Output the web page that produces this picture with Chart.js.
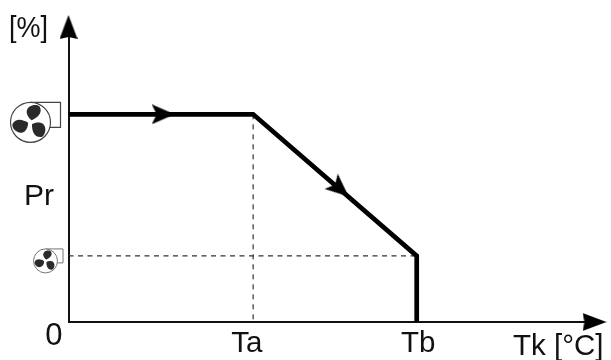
<!DOCTYPE html>
<html><head><meta charset="utf-8">
<style>html,body{margin:0;padding:0;background:#fff}#w{position:relative;width:611px;height:360px}canvas{display:block;filter:blur(0.4px)}</style>
<script src="https://cdn.jsdelivr.net/npm/chart.js@4"></script></head>
<body><div id="w"><canvas id="c" width="611" height="360"></canvas></div>
<script>
const xCategories = ['Ta', 'Tb'];
const xTickValues = [33.9, 66.5];
const yTickValues = [0];
const yTickLabels = ['0'];
const yHigh = 70.4;
const yLow = 22.4;
const curveX = [0, 35.1, 66.2, 66.2];
const curveY = [70.4, 70.4, 22.4, 0];
const guideAX = [35.1, 35.1];
const guideAY = [70.4, 0];
const guideBX = [0, 66.2];
const guideBY = [22.4, 22.4];
const arrowX = [18, 51.6];
const arrowY = [70.4, 45.1];
const arrowRot = [90, 131];
const axisEndX = [100];
const axisEndY = [100];

function pts(xs, ys){ return xs.map((x,i)=>({x, y: ys[i]})); }

function arrowCanvas(w, h, notch){
  const c = document.createElement('canvas');
  c.width = w; c.height = h;
  const g = c.getContext('2d');
  g.fillStyle = '#000';
  g.beginPath();
  g.moveTo(w/2, 0);
  g.lineTo(w, h);
  g.lineTo(w/2, h - notch);
  g.lineTo(0, h);
  g.closePath();
  g.fill();
  return c;
}
const headAxis = arrowCanvas(18, 24, 2);
const headCurve = arrowCanvas(20, 23, 5);

function fan(ctx, cx, cy, r, boxW, boxH, bladeColor, stroke, lw){
  ctx.save();
  ctx.strokeStyle = stroke; ctx.lineWidth = lw;
  ctx.fillStyle = '#fff';
  ctx.beginPath();
  ctx.moveTo(cx, cy - r);
  ctx.lineTo(cx + boxW, cy - r);
  ctx.lineTo(cx + boxW, cy - r + boxH);
  ctx.lineTo(cx + r*0.8, cy - r + boxH);
  ctx.stroke();
  ctx.beginPath(); ctx.arc(cx, cy, r, 0, Math.PI*2); ctx.fill(); ctx.stroke();
  ctx.fillStyle = bladeColor;
  const angles = [-72, 42, 162];
  for (const a of angles){
    ctx.save();
    ctx.translate(cx, cy);
    ctx.rotate(a*Math.PI/180);
    ctx.scale(r, r);
    ctx.beginPath();
    ctx.moveTo(0.12, 0.02);
    ctx.bezierCurveTo(0.3, 0.24, 0.62, 0.46, 0.88, 0.2);
    ctx.bezierCurveTo(1.02, 0.02, 0.76, -0.46, 0.42, -0.34);
    ctx.bezierCurveTo(0.26, -0.26, 0.16, -0.12, 0.12, 0.02);
    ctx.closePath();
    ctx.fill();
    ctx.restore();
  }
  ctx.restore();
}

const decor = {
  id: 'decor',
  afterDraw(chart){
    const {ctx, scales:{x, y}} = chart;
    const x0 = x.getPixelForValue(0);
    fan(ctx, x0 - 38, y.getPixelForValue(yHigh) + 8, 20, 30, 25, '#2a2a2a', '#444', 1.2);
    fan(ctx, x0 - 23, y.getPixelForValue(yLow) + 5, 12, 17.5, 14, '#2a2a2a', '#777', 1);
    ctx.save();
    ctx.fillStyle = '#111';
    ctx.textBaseline = 'alphabetic';
    ctx.textAlign = 'left';
    ctx.save();
    ctx.translate(9, 37);
    ctx.scale(0.9, 1);
    ctx.font = '30px "Liberation Sans"';
    ctx.fillText('[%]', 0, 0);
    ctx.restore();
    ctx.font = '30px "Liberation Sans"';
    ctx.fillText('Pr', 24, 205);
    ctx.font = '29.5px "Liberation Sans"';
    ctx.fillText('Tk [\u00B0C]', 513, 355);
    ctx.restore();
  }
};

new Chart(document.getElementById('c'), {
  type: 'scatter',
  data: { datasets: [
    { data: pts(curveX, curveY), showLine: true, borderColor:'#000', borderWidth:4.7, pointRadius:0, borderJoinStyle:'miter', order:1 },
    { data: pts(guideAX, guideAY), showLine: true, borderColor:'#333', borderWidth:1.2, borderDash:[5,5], pointRadius:0, order:3 },
    { data: pts(guideBX, guideBY), showLine: true, borderColor:'#333', borderWidth:1.2, borderDash:[5,4.5], pointRadius:0, order:3 },
    { data: pts(arrowX, arrowY), showLine:false, pointStyle:headCurve, pointRotation:arrowRot, clip:false, order:0 },
    { data: [{x:0,y:axisEndY[0]}], showLine:false, pointStyle:headAxis, pointRotation:0, clip:false, order:0 },
    { data: [{x:axisEndX[0],y:0}], showLine:false, pointStyle:headAxis, pointRotation:90, clip:false, order:0 }
  ]},
  options: {
    responsive:false, animation:false, events:[],
    layout:{padding:{left:0,right:16.5,top:27,bottom:0}},
    plugins:{legend:{display:false},tooltip:{enabled:false}},
    scales:{
      x:{ type:'linear', min:0, max:100,
        afterFit(s){ s.height = 38; },
        afterBuildTicks(s){ s.ticks = xTickValues.map(v=>({value:v})); },
        grid:{display:false, drawTicks:false},
        border:{display:true,color:'#111',width:2},
        ticks:{ color:'#111', font:{family:'"Liberation Sans"',size:29.5}, padding:4, maxRotation:0, autoSkip:false,
          callback(v){ const i = xTickValues.indexOf(v); return i>=0 ? xCategories[i] : ''; } }
      },
      y:{ type:'linear', min:0, max:100,
        afterFit(s){ s.width = 68.5; },
        afterBuildTicks(s){ s.ticks = yTickValues.map(v=>({value:v})); },
        grid:{display:false, drawTicks:false},
        border:{display:true,color:'#111',width:2},
        ticks:{ color:'#111', font:{family:'"Liberation Sans"',size:31}, padding:6, labelOffset:14,
          callback(v){ const i = yTickValues.indexOf(v); return i>=0 ? yTickLabels[i] : ''; } }
      }
    }
  },
  plugins:[decor]
});
</script></body></html>
